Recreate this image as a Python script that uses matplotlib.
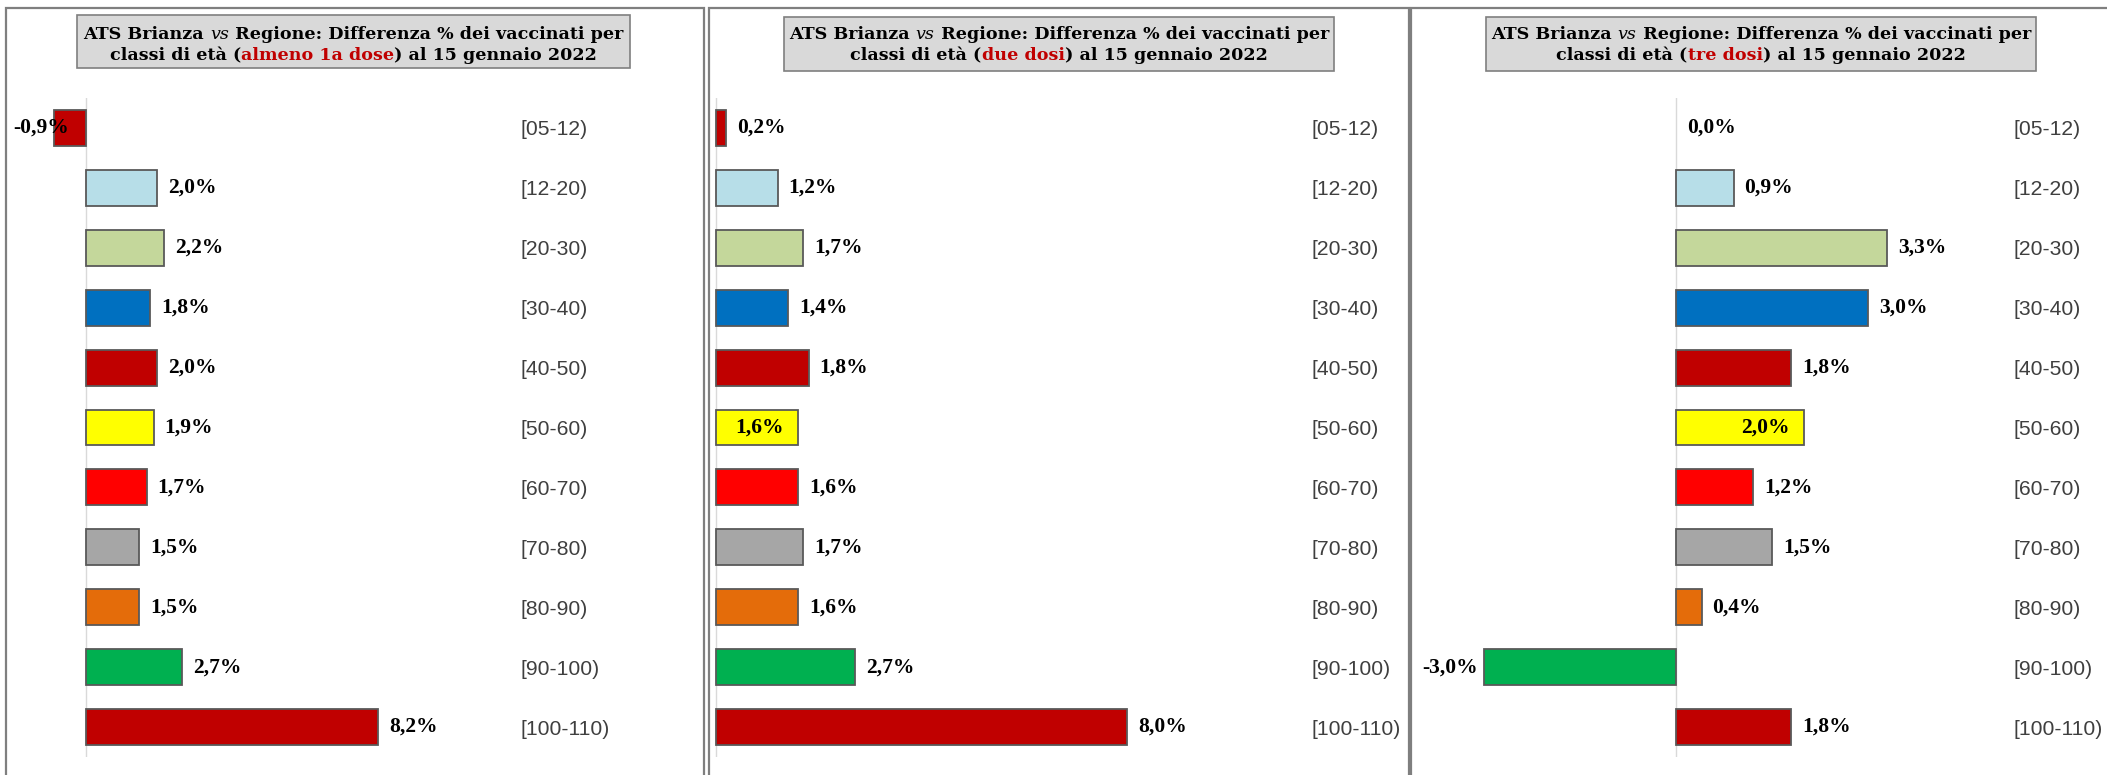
import numpy as np
import matplotlib.pyplot as plt
from matplotlib.patches import Rectangle
from matplotlib.transforms import IdentityTransform

classi = ['[05-12)', '[12-20)', '[20-30)', '[30-40)', '[40-50)', '[50-60)',
          '[60-70)', '[70-80)', '[80-90)', '[90-100)', '[100-110)']
almeno_1a = [-0.9, 2.0, 2.2, 1.8, 2.0, 1.9, 1.7, 1.5, 1.5, 2.7, 8.2]
due_dosi = [0.2, 1.2, 1.7, 1.4, 1.8, 1.6, 1.6, 1.7, 1.6, 2.7, 8.0]
tre_dosi = [0.0, 0.9, 3.3, 3.0, 1.8, 2.0, 1.2, 1.5, 0.4, -3.0, 1.8]
dosi = ['almeno 1a dose', 'due dosi', 'tre dosi']

colori = ['#C00000', '#B7DEE8', '#C4D79B', '#0070C0', '#C00000', '#FFFF00',
          '#FF0000', '#A6A6A6', '#E46C0A', '#00B050', '#C00000']

W, H = 2107, 775
fig = plt.figure(figsize=(W / 100, H / 100), dpi=100)
renderer = fig.canvas.get_renderer()
px = IdentityTransform()

# geometria pannelli in pixel (bordo sx/dx, asse zero, px per punto %, x etichette, box titolo)
pannelli = [
    dict(l=6, r=704, zero=86, scala=35.6, lab=520, box=(77, 630, 15, 68), dentro=[]),
    dict(l=709, r=1409, zero=716, scala=51.4, lab=1311, box=(784, 1334, 17, 71), dentro=[5]),
    dict(l=1411, r=2120, zero=1676, scala=64.0, lab=2013, box=(1486, 2036, 17, 71), dentro=[5]),
]
serie = [almeno_1a, due_dosi, tre_dosi]

TIT = dict(family='DejaVu Serif', weight='bold', size=12.6)
TIT_IT = dict(family='DejaVu Serif', style='italic', size=12.6)
VAL = dict(family='Liberation Serif', weight='bold', size=15.5)


def larghezza(s, props):
    t = fig.text(0, 0, '|' + s + '|', **props)
    w1 = t.get_window_extent(renderer).width
    t.set_text('||')
    w0 = t.get_window_extent(renderer).width
    t.remove()
    return w1 - w0


def riga(pezzi, cx, y):
    ws = [larghezza(s, p) for s, p, c in pezzi]
    x = cx - sum(ws) / 2
    for (s, p, c), w in zip(pezzi, ws):
        fig.text(x, y, s, color=c, ha='left', va='baseline', transform=px, **p)
        x += w


y0_ax, y1_ax = 98, 757
for pan, valori, dose in zip(pannelli, serie, dosi):
    # bordo del pannello
    fig.add_artist(Rectangle((pan['l'], -10), pan['r'] - pan['l'], H - 8 + 10,
                             transform=px, fill=False, edgecolor='#7F7F7F', lw=1.6))
    # box del titolo
    x0, x1, t0, t1 = pan['box']
    fig.add_artist(Rectangle((x0, H - t1), x1 - x0, t1 - t0, transform=px,
                             facecolor='#D9D9D9', edgecolor='#7F7F7F', lw=1.2))
    cx = (x0 + x1) / 2
    riga([('ATS Brianza ', TIT, 'black'), ('vs', TIT_IT, 'black'),
          (' Regione: Differenza % dei vaccinati per', TIT, 'black')], cx, H - 39)
    riga([('classi di età (', TIT, 'black'), (dose, TIT, '#C00000'),
          (') al 15 gennaio 2022', TIT, 'black')], cx, H - 60)

    ax_l = pan['l'] + 2
    ax_r = pan['lab'] - 10
    ax = fig.add_axes([ax_l / W, (H - y1_ax) / H, (ax_r - ax_l) / W, (y1_ax - y0_ax) / H])
    ax.set_xlim((ax_l - pan['zero']) / pan['scala'], (ax_r - pan['zero']) / pan['scala'])
    ax.patch.set_alpha(0)
    y = np.arange(len(classi))
    bordi = ['none' if v == 0 else '#595959' for v in valori]
    ax.barh(y, valori, height=0.6, color=colori, edgecolor=bordi, linewidth=1.3, zorder=3)
    ax.set_ylim(len(classi) - 0.5, -0.5)
    ax.axvline(0, color='#D9D9D9', lw=1, zorder=2)
    for s in ax.spines.values():
        s.set_visible(False)
    ax.set_xticks([])
    ax.yaxis.tick_right()
    ax.set_yticks(y)
    ax.set_yticklabels(classi, family='Liberation Sans', size=15.2, color='#3F3F3F')
    ax.tick_params(axis='y', length=0, pad=7.5)
    for i, v in enumerate(valori):
        testo = f'{v:.1f}'.replace('.', ',') + '%'
        fine = pan['zero'] + v * pan['scala']
        if i in pan['dentro']:
            off, ha = -14, 'right'
        elif v < 0:
            off, ha = -6, 'right'
            w = larghezza(testo, VAL)
            if fine + off - w < pan['l'] + 7:
                off, ha = pan['l'] + 7 - fine, 'left'
        else:
            off, ha = 11, 'left'
        ax.annotate(testo, (v, i), xytext=(off, 0), textcoords='offset pixels',
                    ha=ha, va='center', color='black', zorder=4, **VAL)

fig.savefig('out.png', dpi=100)
